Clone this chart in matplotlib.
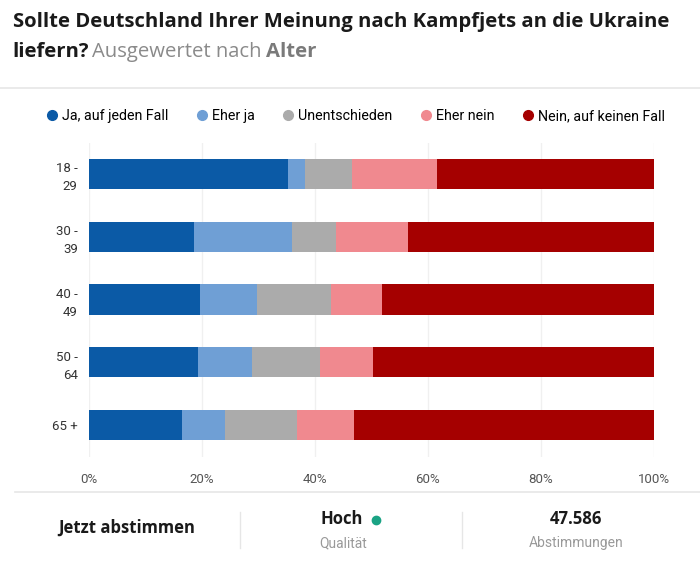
import matplotlib
matplotlib.use("Agg")
import matplotlib.pyplot as plt
from matplotlib.lines import Line2D
import numpy as np

# Daten
gruppen = ["18 -\n29", "30 -\n39", "40 -\n49", "50 -\n64", "65 +"]
kategorien = ["Ja, auf jeden Fall", "Eher ja", "Unentschieden", "Eher nein", "Nein, auf keinen Fall"]
ja_sicher = [35.2, 18.6, 19.6, 19.3, 16.5]
eher_ja = [3.0, 17.3, 10.2, 9.5, 7.6]
unentschieden = [8.3, 7.8, 13.0, 12.1, 12.7]
eher_nein = [15.1, 12.8, 9.1, 9.4, 10.1]
nein_sicher = [38.4, 43.5, 48.1, 49.7, 53.1]
farben = ["#0b5aa6", "#6f9fd5", "#ababab", "#f0898f", "#a50000"]
ticks = [0, 20, 40, 60, 80, 100]

plt.rcParams['font.family'] = ['Open Sans', 'DejaVu Sans']

fig = plt.figure(figsize=(7, 5.64), dpi=100)
ax = fig.add_axes([0.127, 0.1906, 0.807, 0.5567])

werte = [ja_sicher, eher_ja, unentschieden, eher_nein, nein_sicher]
y = np.arange(len(gruppen))
links = np.zeros(len(gruppen))
for w, f, k in zip(werte, farben, kategorien):
    ax.barh(y, w, left=links, height=0.48, color=f, label=k, zorder=2)
    links += np.array(w)

ax.set_xlim(0, 100)
ax.set_ylim(len(gruppen) - 0.5, -0.5)
ax.set_xticks(ticks)
ax.set_xticklabels([f"{t}%" for t in ticks], fontsize=9.5, color="#555555", family="Roboto")
ax.set_yticks(y)
ax.set_yticklabels(gruppen, fontsize=9.5, color="#333333", family="Roboto", linespacing=1.5)
ax.tick_params(axis="x", length=0, pad=12)
ax.tick_params(axis="y", length=0, pad=8)
ax.grid(axis="x", color="#f0f0f0", linewidth=1, zorder=0)
for s in ax.spines.values():
    s.set_visible(False)

# Titel
fig.text(13/700, 1 - 22/564, "Sollte Deutschland Ihrer Meinung nach Kampfjets an die Ukraine",
         fontsize=14.6, fontweight="bold", color="#1a1a1a", va="center")
r = fig.canvas.get_renderer()
t1 = fig.text(12/700, 1 - 52/564, "liefern?", fontsize=14.6, fontweight="bold", color="#1a1a1a", va="center")
bb = t1.get_window_extent(r)
t2 = fig.text(bb.x1/700 + 4/700, 1 - 52/564, "Ausgewertet nach", fontsize=14.6, color="#8a8a8a", va="center")
bb = t2.get_window_extent(r)
fig.text(bb.x1/700 + 4/700, 1 - 52/564, "Alter", fontsize=14.6, fontweight="bold", color="#7a7a7a", va="center")

# Trennlinien
fig.add_artist(Line2D([0, 1], [1 - 88/564, 1 - 88/564], color="#e6e6e6", linewidth=1.2))
fig.add_artist(Line2D([15/700, 1], [1 - 492/564, 1 - 492/564], color="#e6e6e6", linewidth=1.2))

# Legende
handles = [Line2D([], [], marker="o", linestyle="", markersize=7, color=f) for f in farben]
fig.legend(handles, kategorien, loc="center", bbox_to_anchor=(0.507, 1 - 116/564), ncol=5,
           frameon=False, handletextpad=0.2, columnspacing=1.85, handlelength=1,
           prop={"family": "Roboto", "size": 10.3})

# Fusszeile
fig.text(127/700, 1 - 528/564, "Jetzt abstimmen", fontsize=12, fontweight="bold", color="#1a1a1a",
         ha="center", va="center")
fig.add_artist(Line2D([240/700, 240/700], [1 - 512/564, 1 - 548/564], color="#e6e6e6", linewidth=1))
fig.add_artist(Line2D([462/700, 462/700], [1 - 512/564, 1 - 548/564], color="#e6e6e6", linewidth=1))
fig.text(342/700, 1 - 519/564, "Hoch", fontsize=12, fontweight="bold", color="#1a1a1a", ha="center", va="center")
fig.add_artist(Line2D([376/700], [1 - 520/564], marker="o", markersize=6, color="#1aa384", linestyle=""))
fig.text(343/700, 1 - 543/564, "Qualität", fontsize=10, color="#999999", ha="center", va="center", family="Roboto")
fig.text(576/700, 1 - 519/564, "47.586", fontsize=12, fontweight="bold", color="#1a1a1a", ha="center", va="center")
fig.text(576/700, 1 - 543/564, "Abstimmungen", fontsize=10, color="#999999", ha="center", va="center", family="Roboto")

fig.savefig("out.png", dpi=100)
